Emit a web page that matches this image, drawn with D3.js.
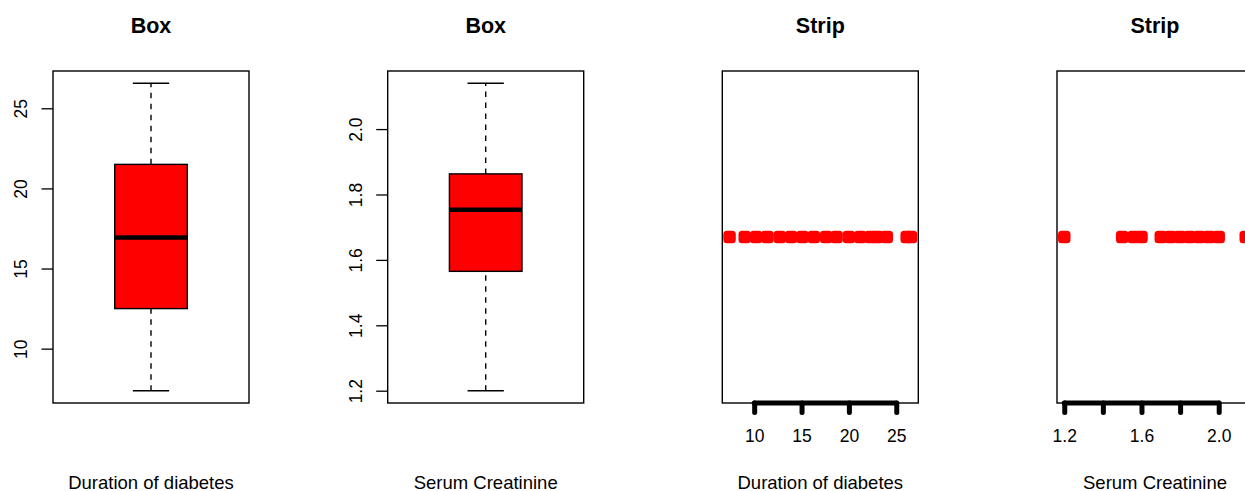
<!DOCTYPE html>
<html>
<head>
<meta charset="utf-8">
<script src="https://cdn.jsdelivr.net/npm/d3@7"></script>
<style>
  html, body { margin: 0; padding: 0; background: #fff; }
  svg { display: block; font-family: "Liberation Sans", Arial, Helvetica, sans-serif; }
</style>
</head>
<body>
<svg id="chart" width="1245" height="491"></svg>
<script>
// Values
const panelTitles = ["Box", "Box", "Strip", "Strip"];
const variableNames = ["Duration of diabetes", "Serum Creatinine", "Duration of diabetes", "Serum Creatinine"];

// five number summaries: lower whisker, Q1, median, Q3, upper whisker
const durationBox = [7.375, 12.5, 16.94, 21.5, 26.56];
const creatinineBox = [1.2, 1.565, 1.753, 1.863, 2.14];

// strip chart points
const durationStrip = [7.4, 9.0, 10.2, 11.4, 12.7, 13.9, 15.1, 16.3, 17.6, 18.7, 20.0, 21.2, 22.3, 23.0, 24.0, 26.1, 26.56];
const creatinineStrip = [1.2, 1.5, 1.56, 1.6, 1.7, 1.75, 1.8, 1.85, 1.9, 1.95, 2.0, 2.14];

// axis ticks
const durationTicks = [10, 15, 20, 25];
const creatinineTicks = [1.2, 1.4, 1.6, 1.8, 2.0];
const creatinineStripLabels = ["1.2", "", "1.6", "", "2.0"];

const ChartViz = (function() {
    const svg = d3.select("#chart");
    const frameTop = 71, frameBottom = 403, frameWidth = 196;
    const panelLefts = [53, 387.7, 722.3, 1057];
    const red = "#ff0000";

    // R style range: extend data range by 4% on each side
    function padded(lo, hi) {
        const r = hi - lo;
        return [lo - 0.04 * r, hi + 0.04 * r];
    }

    function drawFrame(g, left, i) {
        g.append("rect")
            .attr("x", left).attr("y", frameTop)
            .attr("width", frameWidth).attr("height", frameBottom - frameTop)
            .attr("fill", "none").attr("stroke", "#000").attr("stroke-width", 1.4);

        const cx = left + frameWidth / 2;
        g.append("text")
            .attr("x", cx).attr("y", 33)
            .attr("text-anchor", "middle")
            .attr("font-size", "21.5px").attr("font-weight", "bold")
            .text(panelTitles[i]);

        g.append("text")
            .attr("x", cx).attr("y", 488.5)
            .attr("text-anchor", "middle")
            .attr("font-size", "18.5px")
            .text(variableNames[i]);
    }

    function drawBox(i, stats, ticks, fmt) {
        const left = panelLefts[i];
        const g = svg.append("g");
        const y = d3.scaleLinear().domain(padded(stats[0], stats[4])).range([frameBottom, frameTop]);
        const x = d3.scaleLinear().domain([0.46, 1.54]).range([left, left + frameWidth]);
        const [lo, q1, med, q3, hi] = stats;

        // whiskers
        [[lo, q1], [q3, hi]].forEach(([a, b]) => {
            g.append("line")
                .attr("x1", x(1)).attr("x2", x(1))
                .attr("y1", y(a)).attr("y2", y(b))
                .attr("stroke", "#000").attr("stroke-width", 1.4)
                .attr("stroke-dasharray", "5.5,5.5");
        });
        [lo, hi].forEach(v => {
            g.append("line")
                .attr("x1", x(0.9)).attr("x2", x(1.1))
                .attr("y1", y(v)).attr("y2", y(v))
                .attr("stroke", "#000").attr("stroke-width", 1.4);
        });

        g.append("rect")
            .attr("x", x(0.8)).attr("y", y(q3))
            .attr("width", x(1.2) - x(0.8)).attr("height", y(q1) - y(q3))
            .attr("fill", red).attr("stroke", "#000").attr("stroke-width", 1.4);

        g.append("line")
            .attr("x1", x(0.8)).attr("x2", x(1.2))
            .attr("y1", y(med)).attr("y2", y(med))
            .attr("stroke", "#000").attr("stroke-width", 4.5);

        // left axis with rotated labels
        const axis = g.append("g")
            .attr("transform", `translate(${left},0)`)
            .call(d3.axisLeft(y).tickValues(ticks).tickSize(11.5).tickFormat(fmt));
        axis.select(".domain").remove();
        axis.selectAll(".tick line").attr("stroke", "#000").attr("stroke-width", 1.3);
        axis.selectAll(".tick text")
            .attr("x", null).attr("dy", null)
            .attr("transform", "translate(-26,0) rotate(-90)")
            .attr("text-anchor", "middle")
            .attr("fill", "#000")
            .attr("font-size", "17.5px")
            .attr("font-family", null);

        drawFrame(g, left, i);
    }

    function drawStrip(i, values, ticks, labels) {
        const left = panelLefts[i];
        const g = svg.append("g");
        const x = d3.scaleLinear().domain(padded(...d3.extent(values))).range([left, left + frameWidth]);
        const y = d3.scaleLinear().domain([0, 2]).range([frameBottom, frameTop]);
        const s = 12.5;

        g.selectAll("rect.pt")
            .data(values)
            .join("rect")
            .attr("class", "pt")
            .attr("x", d => x(d) - s / 2).attr("y", y(1) - s / 2)
            .attr("width", s).attr("height", s)
            .attr("rx", 3.5)
            .attr("fill", red);

        drawFrame(g, left, i);

        // bottom axis, heavy line from first to last tick
        const axis = g.append("g")
            .attr("transform", `translate(0,${frameBottom})`)
            .call(d3.axisBottom(x).tickValues(ticks).tickSize(9.5)
                .tickFormat((d, k) => labels[k]));
        axis.select(".domain").remove();
        axis.append("line")
            .attr("x1", x(ticks[0])).attr("x2", x(ticks[ticks.length - 1]))
            .attr("y1", 0).attr("y2", 0)
            .attr("stroke", "#000").attr("stroke-width", 5)
            .attr("stroke-linecap", "round");
        axis.selectAll(".tick line")
            .attr("stroke", "#000").attr("stroke-width", 5)
            .attr("stroke-linecap", "round");
        axis.selectAll(".tick text")
            .attr("y", 38.7).attr("dy", null)
            .attr("fill", "#000")
            .attr("font-size", "17.5px")
            .attr("font-family", null);
    }

    function init() {
        svg.selectAll("*").remove();
        svg.append("rect").attr("width", 1245).attr("height", 491).attr("fill", "#fff");

        drawBox(0, durationBox, durationTicks, d3.format("d"));
        drawBox(1, creatinineBox, creatinineTicks, d3.format(".1f"));
        drawStrip(2, durationStrip, durationTicks, durationTicks.map(String));
        drawStrip(3, creatinineStrip, creatinineTicks, creatinineStripLabels);
    }

    return { initialize: init };
})();

ChartViz.initialize();
</script>
</body>
</html>
